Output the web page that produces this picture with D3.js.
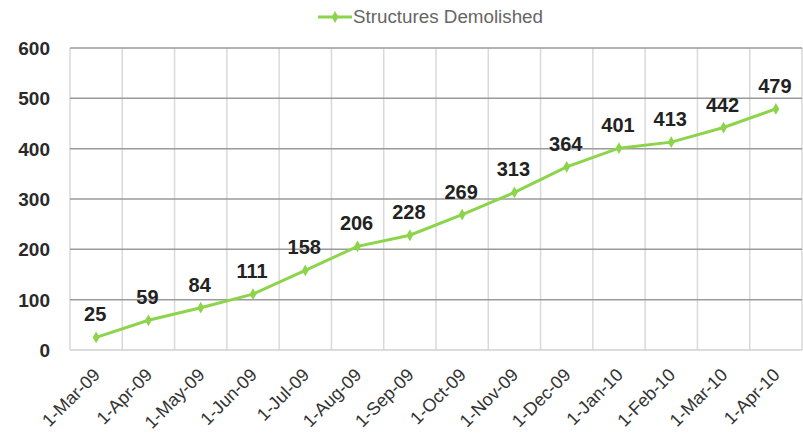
<!DOCTYPE html>
<html>
<head>
<meta charset="utf-8">
<script src="https://cdn.jsdelivr.net/npm/d3@7"></script>
<style>
  body { margin: 0; background: #fff; }
  text { font-family: "Liberation Sans", Arial, sans-serif; }
</style>
</head>
<body>
<svg width="803" height="441"></svg>
<script>
const months = ['1-Mar-09', '1-Apr-09', '1-May-09', '1-Jun-09', '1-Jul-09', '1-Aug-09', '1-Sep-09',
  '1-Oct-09', '1-Nov-09', '1-Dec-09', '1-Jan-10', '1-Feb-10', '1-Mar-10', '1-Apr-10']
const demolished = [25, 59, 84, 111, 158, 206, 228, 269, 313, 364, 401, 413, 442, 479]
const yTicks = [0, 100, 200, 300, 400, 500, 600]
const seriesName = 'Structures Demolished'

const svg = d3.select('svg'),
  plotLeft = 70, plotRight = 802, plotTop = 48, plotBottom = 350,
  green = '#8cd44a'

const x = d3.scaleBand().domain(months).range([plotLeft, plotRight])
const y = d3.scaleLinear().domain([0, 600]).range([plotBottom, plotTop])

// vertical grid lines (category borders)
svg.append('g')
  .selectAll('line')
  .data(months.concat(['end']))
  .enter()
  .append('line')
  .attr('x1', (d, i) => plotLeft + i * x.bandwidth())
  .attr('x2', (d, i) => plotLeft + i * x.bandwidth())
  .attr('y1', plotTop).attr('y2', plotBottom)
  .attr('stroke', '#d9d9d9').attr('stroke-width', 1.5)

// horizontal grid lines
svg.append('g')
  .selectAll('line')
  .data(yTicks)
  .enter()
  .append('line')
  .attr('x1', plotLeft).attr('x2', plotRight)
  .attr('y1', d => y(d)).attr('y2', d => y(d))
  .attr('stroke', d => d === 0 ? '#d0d0d0' : '#9a9a9a')
  .attr('stroke-width', 1.5)

// y axis labels
svg.append('g')
  .selectAll('text')
  .data(yTicks)
  .enter()
  .append('text')
  .attr('x', 50)
  .attr('y', d => y(d) + 7)
  .attr('text-anchor', 'end')
  .attr('font-size', 19)
  .attr('font-weight', 'bold')
  .attr('fill', '#2a2a2a')
  .text(d => d)

// x axis labels
svg.append('g')
  .selectAll('text')
  .data(months)
  .enter()
  .append('text')
  .attr('transform', d => 'translate(' + (x(d) + x.bandwidth() / 2 + 5) + ',' + (plotBottom + 26) + ') rotate(-45)')
  .attr('text-anchor', 'end')
  .attr('font-size', 18)
  .attr('fill', '#333')
  .text(d => d)

// line
const line = d3.line()
  .x((d, i) => x(months[i]) + x.bandwidth() / 2)
  .y(d => y(d))

svg.append('path')
  .datum(demolished)
  .attr('d', line)
  .attr('fill', 'none')
  .attr('stroke', green)
  .attr('stroke-width', 3)

svg.append('g')
  .selectAll('path')
  .data(demolished)
  .enter()
  .append('path')
  .attr('d', d3.symbol().type(d3.symbolDiamond).size(40))
  .attr('transform', (d, i) => 'translate(' + (x(months[i]) + x.bandwidth() / 2) + ',' + y(d) + ')')
  .attr('fill', green)

// data labels
svg.append('g')
  .selectAll('text')
  .data(demolished)
  .enter()
  .append('text')
  .attr('x', (d, i) => x(months[i]) + x.bandwidth() / 2 - 1)
  .attr('y', d => y(d) - 16)
  .attr('text-anchor', 'middle')
  .attr('font-size', 20)
  .attr('font-weight', 'bold')
  .attr('fill', '#222')
  .text(d => d)

// legend
const lg = svg.append('g').attr('transform', 'translate(318,17)')
lg.append('line').attr('x1', 0).attr('x2', 34).attr('y1', 0).attr('y2', 0)
  .attr('stroke', green).attr('stroke-width', 3)
lg.append('path').attr('d', d3.symbol().type(d3.symbolDiamond).size(40))
  .attr('transform', 'translate(17,0)').attr('fill', green)
lg.append('text').attr('x', 35).attr('y', 6)
  .attr('font-size', 18).attr('fill', '#666')
  .attr('textLength', 190).attr('lengthAdjust', 'spacingAndGlyphs')
  .text(seriesName)
</script>
</body>
</html>
